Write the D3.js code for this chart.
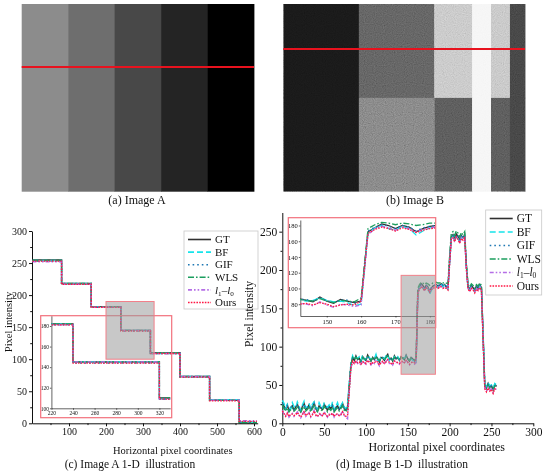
<!DOCTYPE html>
<html>
<head>
<meta charset="utf-8">
<script src="https://cdn.jsdelivr.net/npm/d3@7"></script>
<style>
  body { margin: 0; background: #fff; }
  svg { display: block; }
  text { font-family: "Liberation Serif", "Times New Roman", serif; fill: #111; }
</style>
</head>
<body>
<div id="chart"></div>
<script>
const W = 550, H = 473;

// ---- image A: five gray bands, scan row marked in red
const bandsA = [140, 110, 72, 36, 0];
const scanRowA = 67;

// ---- image B: column edges (px), gray level above / below the split row
const colEdgesB = [0, 80, 160, 200, 220, 240, 256];
const topGrayB = [20, 78, 180, 242, 178, 55];
const botGrayB = [20, 106, 72, 242, 72, 55];
const rowSplitB = 100;
const scanRowB = 48;

const seriesNames = ["GT", "BF", "GIF", "WLS", "l1-l0", "Ours"];

// ---- (c) image A profile: step edges and level per step
const stepsA = [1, 80, 160, 240, 320, 400, 480, 560, 608];
const levelsA = {
  "GT":    [255, 218, 182, 145, 110, 73, 36, 0],
  "BF":    [254, 218, 182, 145, 109, 73, 37, 2],
  "GIF":   [253, 217, 181, 144, 109, 72, 36, 2],
  "WLS":   [254, 218, 182, 145, 110, 73, 36, 1],
  "l1-l0": [252, 217, 181, 145, 109, 73, 36, 4],
  "Ours":  [253, 217, 181, 144, 109, 72, 35, 3]
};

// ---- (d) image B profile, one value every 2 px (x = 0, 2, ..., 256)
const xsB = d3.range(0, 257, 2);
const gtB = [28,22,18,24,16,20,23,17,21,25, 19,15,22,26,18,20,24,17,21,27, 19,16,23,20,18,25,21,17,22,19, 24,16,20,23,18,21,26,19,17,22,
  48,76,
  86,82,88,83,85,80,87,84,82,89, 85,81,86,83,88,84,80,86,85,82, 87,90,83,85,81,88,84,86,82,87, 85,83,89,84,81,86,84,82,
  84,172,
  177,182,180,176,180,178,172,176,179,180, 181,179,180,182,179,181,178,177,
  212, 243,246,240,247,244,238,245,242,246,
  205, 178,175,180,177,173,179,176,181,177,
  115, 50,46,52,47,49,44,51,48];
const bfB = [30,26,19,25,21,18,27,22,20,28, 23,17,24,29,20,22,26,19,25,28, 21,18,27,22,19,26,23,21,24,20, 28,18,22,27,20,23,27,21,19,26,
  52,78,
  88,83,86,85,87,82,89,83,84,88, 86,83,85,84,90,82,82,87,86,84, 88,89,82,86,83,87,85,87,83,86, 84,85,88,85,83,84,82,78,
  80,170,
  177,180,176,174,179,176,168,173,177,178, 180,177,179,181,178,180,177,175,
  210, 240,244,238,243,241,236,243,240,244,
  203, 176,174,178,175,172,176,175,179,175,
  118, 52,48,53,49,50,46,52,50];
const gifB = [26,21,19,23,17,21,22,18,20,24, 20,16,21,25,19,21,23,18,22,26, 20,17,22,21,19,24,22,18,21,20, 23,17,21,22,19,20,25,20,18,21,
  50,77,
  85,83,87,84,84,81,86,85,83,88, 84,82,85,84,87,85,81,85,86,83, 86,89,84,84,82,87,85,85,83,86, 86,84,88,85,82,85,85,81,
  83,173,
  178,181,179,176,180,178,173,177,179,180, 181,180,180,182,180,181,179,178,
  213, 244,245,241,246,244,239,244,243,245,
  206, 179,176,179,178,174,178,177,180,178,
  117, 51,47,51,48,49,45,50,48];
const wlsB = [24,19,16,20,15,18,20,16,18,21, 17,14,19,22,16,18,21,15,19,23, 17,15,20,18,16,22,19,15,19,17, 21,15,18,20,16,19,23,17,15,19,
  46,76,
  86,83,86,84,85,82,86,84,83,87, 85,82,85,83,87,84,82,85,85,83, 86,88,84,85,82,86,84,85,83,86, 85,84,87,84,82,85,84,83,
  88,176,
  181,184,183,181,183,182,180,181,183,183, 184,183,183,184,183,184,183,182,
  218, 248,250,245,251,248,243,249,246,250,
  208, 181,178,182,180,176,181,179,183,180,
  112, 49,45,50,46,48,43,49,47];
const l1l0B = [17,12,10,14,8,11,13,9,12,15, 10,7,12,16,9,11,14,8,12,17, 10,8,13,11,9,15,12,8,12,10, 14,8,11,13,9,12,16,10,8,6,
  40,72,
  80,77,82,78,79,76,81,79,77,83, 79,76,80,78,82,79,75,80,80,77, 81,84,78,79,76,82,79,80,77,81, 80,78,83,79,76,80,79,77,
  79,168,
  176,179,177,174,178,176,172,175,177,178, 179,177,178,179,177,178,177,175,
  207, 241,243,238,244,241,236,242,240,243,
  202, 176,173,177,175,171,176,174,178,175,
  110, 46,42,47,43,45,40,46,44];
const oursB = [16,13,9,13,9,12,12,10,11,14, 11,8,11,15,10,12,13,9,11,16, 11,9,12,12,10,14,11,9,11,11, 13,9,12,12,10,11,15,11,9,10,
  42,73,
  81,78,81,79,80,77,80,80,78,82, 80,77,79,79,81,80,76,79,81,78, 80,83,79,78,77,81,80,79,78,80, 81,79,82,80,77,79,80,79,
  84,170,
  175,178,176,173,177,175,171,174,176,177, 178,176,177,178,176,177,176,174,
  209, 240,242,237,243,240,235,241,239,242,
  201, 175,172,176,174,170,175,173,177,174,
  108, 45,41,46,42,44,39,45,43];
const valuesB = { "GT": gtB, "BF": bfB, "GIF": gifB, "WLS": wlsB, "l1-l0": l1l0B, "Ours": oursB };

const styles = {
  "GT":    { color: "#303030", dash: null },
  "BF":    { color: "#16e4ea", dash: "6,3" },
  "GIF":   { color: "#1f78b4", dash: "1.6,3" },
  "WLS":   { color: "#1b9e5e", dash: "6,2,1.6,2" },
  "l1-l0": { color: "#b56ee6", dash: "4,2,1.6,2,1.6,2" },
  "Ours":  { color: "#ff1744", dash: "1.6,1.2" }
};

const svg = d3.select("#chart").append("svg").attr("width", W).attr("height", H);
const defs = svg.append("defs");

const grain = defs.append("filter").attr("id", "grain")
  .attr("x", 0).attr("y", 0).attr("width", "100%").attr("height", "100%");
grain.append("feTurbulence").attr("type", "fractalNoise")
  .attr("baseFrequency", 0.9).attr("numOctaves", 1).attr("seed", 7);
grain.append("feColorMatrix").attr("type", "matrix")
  .attr("values", "0.33 0.33 0.33 0 0 0.33 0.33 0.33 0 0 0.33 0.33 0.33 0 0 0 0 0 0 1");

// ================= image A
const xA = d3.scaleLinear().domain([0, bandsA.length]).range([21.7, 254]);
const yA = d3.scaleLinear().domain([0, 200]).range([4, 191.7]);
svg.append("g").selectAll("rect").data(bandsA).join("rect")
  .attr("x", (d, i) => xA(i))
  .attr("y", yA(0))
  .attr("width", xA(1) - xA(0) + 0.4)
  .attr("height", yA(200) - yA(0))
  .attr("fill", d => d3.rgb(d, d, d));
svg.append("line")
  .attr("x1", xA(0)).attr("x2", xA(bandsA.length))
  .attr("y1", yA(scanRowA)).attr("y2", yA(scanRowA))
  .attr("stroke", "#e8121e").attr("stroke-width", 2);

// ================= image B
const xB = d3.scaleLinear().domain([0, 256]).range([283.3, 525]);
const yB = d3.scaleLinear().domain([0, 200]).range([4, 191.7]);
const gB = svg.append("g");
const cols = colEdgesB.slice(0, -1).map((x0, i) => ({ x0, x1: colEdgesB[i + 1], top: topGrayB[i], bot: botGrayB[i] }));
gB.selectAll("rect.top").data(cols).join("rect").attr("class", "top")
  .attr("x", d => xB(d.x0)).attr("width", d => xB(d.x1) - xB(d.x0) + 0.4)
  .attr("y", yB(0)).attr("height", yB(rowSplitB) - yB(0) + 0.4)
  .attr("fill", d => d3.rgb(d.top, d.top, d.top));
gB.selectAll("rect.bot").data(cols).join("rect").attr("class", "bot")
  .attr("x", d => xB(d.x0)).attr("width", d => xB(d.x1) - xB(d.x0) + 0.4)
  .attr("y", yB(rowSplitB)).attr("height", yB(200) - yB(rowSplitB))
  .attr("fill", d => d3.rgb(d.bot, d.bot, d.bot));
gB.append("rect")
  .attr("x", xB(0)).attr("y", yB(0))
  .attr("width", xB(256) - xB(0)).attr("height", yB(200) - yB(0))
  .attr("filter", "url(#grain)")
  .style("mix-blend-mode", "overlay")
  .attr("opacity", 0.7);
svg.append("line")
  .attr("x1", xB(0)).attr("x2", xB(256))
  .attr("y1", yB(scanRowB)).attr("y2", yB(scanRowB))
  .attr("stroke", "#e8121e").attr("stroke-width", 2);

// ================= helpers
function caption(x, y, txt, size) {
  svg.append("text").attr("x", x).attr("y", y)
    .attr("text-anchor", "middle").attr("font-size", size)
    .style("white-space", "pre").text(txt);
}

function axes(x, y, xTicks, yTicks, fs, tick) {
  const g = svg.append("g");
  const step = xTicks[1] - xTicks[0], ystep = yTicks[1] - yTicks[0];
  const xMinor = xTicks.map(v => v - step / 2).filter(v => v > x.domain()[0]);
  const yMinor = yTicks.map(v => v + ystep / 2).filter(v => v < y.domain()[1]);
  g.append("g").attr("transform", `translate(0,${y(0)})`)
    .call(d3.axisBottom(x).tickValues(xTicks).tickSize(tick).tickSizeOuter(0).tickPadding(2));
  g.append("g").attr("transform", `translate(0,${y(0)})`)
    .call(d3.axisBottom(x).tickValues(xMinor).tickSize(tick * 0.6).tickFormat("").tickSizeOuter(0))
    .select(".domain").remove();
  g.append("g").attr("transform", `translate(${x.range()[0]},0)`)
    .call(d3.axisLeft(y).tickValues(yTicks).tickSize(tick).tickSizeOuter(0).tickPadding(2));
  g.append("g").attr("transform", `translate(${x.range()[0]},0)`)
    .call(d3.axisLeft(y).tickValues(yMinor).tickSize(tick * 0.6).tickFormat("").tickSizeOuter(0))
    .select(".domain").remove();
  g.selectAll("text").attr("font-size", fs).attr("font-family", null).attr("fill", "#111");
  g.selectAll("path, line").attr("stroke", "#111");
  return g;
}

function legend(x0, y0, w, h, rowH, fs) {
  const g = svg.append("g");
  g.append("rect").attr("x", x0).attr("y", y0).attr("width", w).attr("height", h)
    .attr("fill", "#fff").attr("stroke", "#c8c8c8").attr("stroke-width", 0.8);
  const rows = g.selectAll("g").data(seriesNames).join("g")
    .attr("transform", (d, i) => `translate(${x0 + 4},${y0 + 8.5 + i * rowH})`);
  rows.append("line").attr("x1", 0).attr("x2", 23)
    .attr("stroke", d => styles[d].color).attr("stroke-width", 1.6)
    .attr("stroke-dasharray", d => styles[d].dash);
  rows.each(function (d) {
    const t = d3.select(this).append("text").attr("x", 27).attr("y", fs * 0.33).attr("font-size", fs);
    if (d === "l1-l0") {
      t.append("tspan").attr("font-style", "italic").text("l");
      t.append("tspan").attr("font-size", fs * 0.65).attr("dy", 2).text("1");
      t.append("tspan").attr("dy", -2).text("\u2013");
      t.append("tspan").attr("font-style", "italic").text("l");
      t.append("tspan").attr("font-size", fs * 0.65).attr("dy", 2).text("0");
    } else {
      t.text(d);
    }
  });
}

function drawLines(g, pts, x, y, curve, w) {
  const line = d3.line().x(d => x(d[0])).y(d => y(d[1])).curve(curve);
  g.selectAll("path.s").data(seriesNames).join("path").attr("class", "s")
    .attr("d", d => line(pts(d)))
    .attr("fill", "none")
    .attr("stroke", d => styles[d].color)
    .attr("stroke-width", w)
    .attr("stroke-dasharray", d => styles[d].dash);
}

const ptsA = s => stepsA.map((x, i) => [x, levelsA[s][Math.min(i, levelsA[s].length - 1)]]);
const ptsB = s => xsB.map((x, i) => [x, valuesB[s][i]]);

// ================= (c) image A 1-D
const xL = d3.scaleLinear().domain([0, 610]).range([32, 257.7]);
const yL = d3.scaleLinear().domain([0, 300]).range([423.3, 231]);
axes(xL, yL, [100, 200, 300, 400, 500, 600], [0, 50, 100, 150, 200, 250, 300], 10, 3);
drawLines(svg.append("g"), ptsA, xL, yL, d3.curveStepAfter, 1.4);

// inset
const boxL = { x0: 40.7, y0: 315.7, x1: 171.7, y1: 417.7 };
const xIL = d3.scaleLinear().domain([220, 330]).range([51.4, 170.2]);
const yIL = d3.scaleLinear().domain([100, 190]).range([408.3, 315.7]);
defs.append("clipPath").attr("id", "clipL").append("rect")
  .attr("x", xIL(220)).attr("y", yIL(190)).attr("width", xIL(330) - xIL(220)).attr("height", yIL(100) - yIL(190));
const inL = svg.append("g");
inL.append("g").attr("transform", `translate(0,${yIL(100)})`)
  .call(d3.axisBottom(xIL).tickValues([220, 240, 260, 280, 300, 320]).tickSize(1.5).tickSizeOuter(0).tickPadding(1));
inL.append("g").attr("transform", `translate(${xIL(220)},0)`)
  .call(d3.axisLeft(yIL).tickValues([100, 120, 140, 160, 180]).tickSize(1.5).tickSizeOuter(0).tickPadding(1));
inL.selectAll("text").attr("font-size", 5.5).attr("font-family", null).attr("fill", "#222");
inL.selectAll("path, line").attr("stroke", "#222").attr("stroke-width", 0.7);
drawLines(inL.append("g").attr("clip-path", "url(#clipL)"), ptsA, xIL, yIL, d3.curveStepAfter, 1.3);
svg.append("rect").attr("x", boxL.x0).attr("y", boxL.y0)
  .attr("width", boxL.x1 - boxL.x0).attr("height", boxL.y1 - boxL.y0)
  .attr("fill", "none").attr("stroke", "#f2707c").attr("stroke-width", 1.2);
svg.append("rect").attr("x", xL(200)).attr("y", yL(190))
  .attr("width", xL(330) - xL(200)).attr("height", yL(100) - yL(190))
  .attr("fill", "#9a9a9a").attr("fill-opacity", 0.55)
  .attr("stroke", "#f2808a").attr("stroke-width", 1);
legend(184, 231, 74, 78, 12.6, 11);

svg.append("text").attr("transform", `translate(11.5,322) rotate(-90)`)
  .attr("text-anchor", "middle").attr("font-size", 10.5).text("Pixel intensity");
caption(172.7, 454, "Horizontal pixel coordinates", 10.5);
caption(130, 468, "(c) Image A 1-D  illustration", 11.5);

// ================= (d) image B 1-D
const xR = d3.scaleLinear().domain([0, 300]).range([282.3, 533.3]);
const yR = d3.scaleLinear().domain([0, 275]).range([423.3, 212.5]);
axes(xR, yR, [0, 50, 100, 150, 200, 250, 300], [0, 50, 100, 150, 200, 250], 11.5, 3);
drawLines(svg.append("g"), ptsB, xR, yR, d3.curveLinear, 1.4);

const boxR = { x0: 288.3, y0: 217.7, x1: 435.7, y1: 327.7 };
const xIR = d3.scaleLinear().domain([142.3, 181.5]).range([300.3, 435]);
const yIR = d3.scaleLinear().domain([65, 187]).range([316, 220]);
defs.append("clipPath").attr("id", "clipR").append("rect")
  .attr("x", xIR(142.3)).attr("y", yIR(187)).attr("width", xIR(181.5) - xIR(142.3)).attr("height", yIR(65) - yIR(187));
const inR = svg.append("g");
inR.append("g").attr("transform", `translate(0,${yIR(65)})`)
  .call(d3.axisBottom(xIR).tickValues([150, 160, 170, 180]).tickSize(1.5).tickSizeOuter(0).tickPadding(1.5));
inR.append("g").attr("transform", `translate(${xIR(142.3)},0)`)
  .call(d3.axisLeft(yIR).tickValues([80, 100, 120, 140, 160, 180]).tickSize(1.5).tickSizeOuter(0).tickPadding(1));
inR.selectAll("text").attr("font-size", 6.5).attr("font-family", null).attr("fill", "#222");
inR.selectAll("path, line").attr("stroke", "#222").attr("stroke-width", 0.7);
drawLines(inR.append("g").attr("clip-path", "url(#clipR)"), ptsB, xIR, yIR, d3.curveLinear, 1.3);
svg.append("rect").attr("x", boxR.x0).attr("y", boxR.y0)
  .attr("width", boxR.x1 - boxR.x0).attr("height", boxR.y1 - boxR.y0)
  .attr("fill", "none").attr("stroke", "#f2707c").attr("stroke-width", 1.2);
svg.append("rect").attr("x", xR(142)).attr("y", yR(193))
  .attr("width", xR(183) - xR(142)).attr("height", yR(64) - yR(193))
  .attr("fill", "#9a9a9a").attr("fill-opacity", 0.55)
  .attr("stroke", "#f2808a").attr("stroke-width", 1);
legend(485.7, 210, 56, 85, 13.5, 11.5);

svg.append("text").attr("transform", `translate(253,314) rotate(-90)`)
  .attr("text-anchor", "middle").attr("font-size", 11.5).text("Pixel intensity");
caption(436.7, 451, "Horizontal pixel coordinates", 12);
caption(402, 468, "(d) Image B 1-D  illustration", 11.5);

caption(137, 204, "(a) Image A", 12);
caption(415, 204, "(b) Image B", 12);
</script>
</body>
</html>
